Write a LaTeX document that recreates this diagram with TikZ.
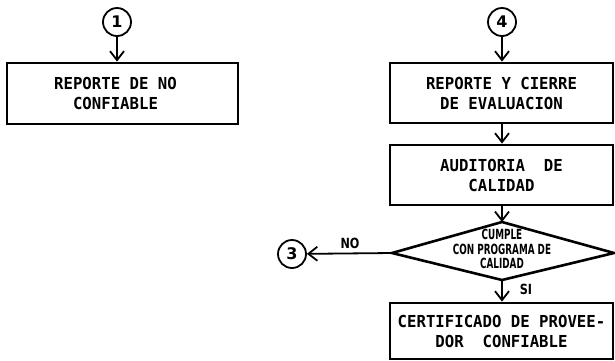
\documentclass[tikz,border=0pt]{standalone}
\usepackage{fontspec}
\setmonofont[FakeStretch=0.95]{DejaVu Sans Mono}
\newfontfamily\dfont{DejaVu Sans}
\usetikzlibrary{arrows.meta}
\begin{document}
\begin{tikzpicture}[x=1pt,y=-1pt,
  box/.style={draw, line width=2.8pt, inner sep=0pt, align=center,
    font=\ttfamily\bfseries\fontsize{16.5}{20}\selectfont},
  conn/.style={line width=1.8pt, -{Straight Barb[length=9pt,width=14pt,line width=1.8pt]}},
  circ/.style={draw, circle, line width=1.8pt, minimum size=28pt, inner sep=0pt,
    font=\dfont\bfseries\fontsize{16}{16}\selectfont},
  lbl/.style={inner sep=0pt, font=\dfont\bfseries\fontsize{14}{14}\selectfont},
  dia/.style={line width=2.6pt, line join=miter}]
\useasboundingbox[fill=white] (0,0) rectangle (615,360);

% left column
\node[circ] (c1) at (117,22) {1};
\node[box, minimum width=231pt, minimum height=61pt] (b1) at (122.5,93.5)
  {REPORTE DE NO\hspace*{14pt}\\CONFIABLE\hspace*{14pt}};

% right column
\node[circ] (c4) at (502,22) {4};
\node[box, minimum width=223pt, minimum height=60pt] (b2) at (501.5,93)
  {REPORTE Y CIERRE\\ DE EVALUACION};
\node[box, minimum width=223pt, minimum height=60pt] (b3) at (501.5,175)
  {AUDITORIA\ \ DE\\CALIDAD};

% decision diamond
\coordinate (dt) at (502,222);
\coordinate (db) at (502,280);
\coordinate (dl) at (392,253);
\coordinate (dr) at (614,253);
\draw[dia] (dt) -- (dr) -- (db) -- (dl) -- cycle;
\node[inner sep=0pt, align=center, font=\dfont\bfseries\fontsize{14}{14.5}\selectfont] (dtext) at (502,249)
  {\scalebox{0.63}[1]{CUMPLE}\\\scalebox{0.63}[1]{CON PROGRAMA DE}\\\scalebox{0.63}[1]{CALIDAD}};

\node[box, minimum width=223pt, minimum height=56pt] (b4) at (501.5,331)
  {CERTIFICADO DE PROVEE-\\DOR\ \ CONFIABLE};

\node[circ] (c3) at (292,254) {3};

% connectors
\draw[conn] (c1) -- (b1.north -| c1);
\draw[conn] (c4) -- (b2.north -| c4);
\draw[conn] (b2.south -| c4) -- (b3.north -| c4);
\draw[conn] (b3.south -| dt) -- (dt);
\draw[conn] (db) -- (b4.north -| db);
\draw[conn] (dl) -- (c3);

% labels
\node[lbl] (no) at (350,243) {\scalebox{0.8}[1]{NO}};
\node[lbl] (si) at (526,289) {\scalebox{0.8}[1]{SI}};
\end{tikzpicture}
\end{document}
